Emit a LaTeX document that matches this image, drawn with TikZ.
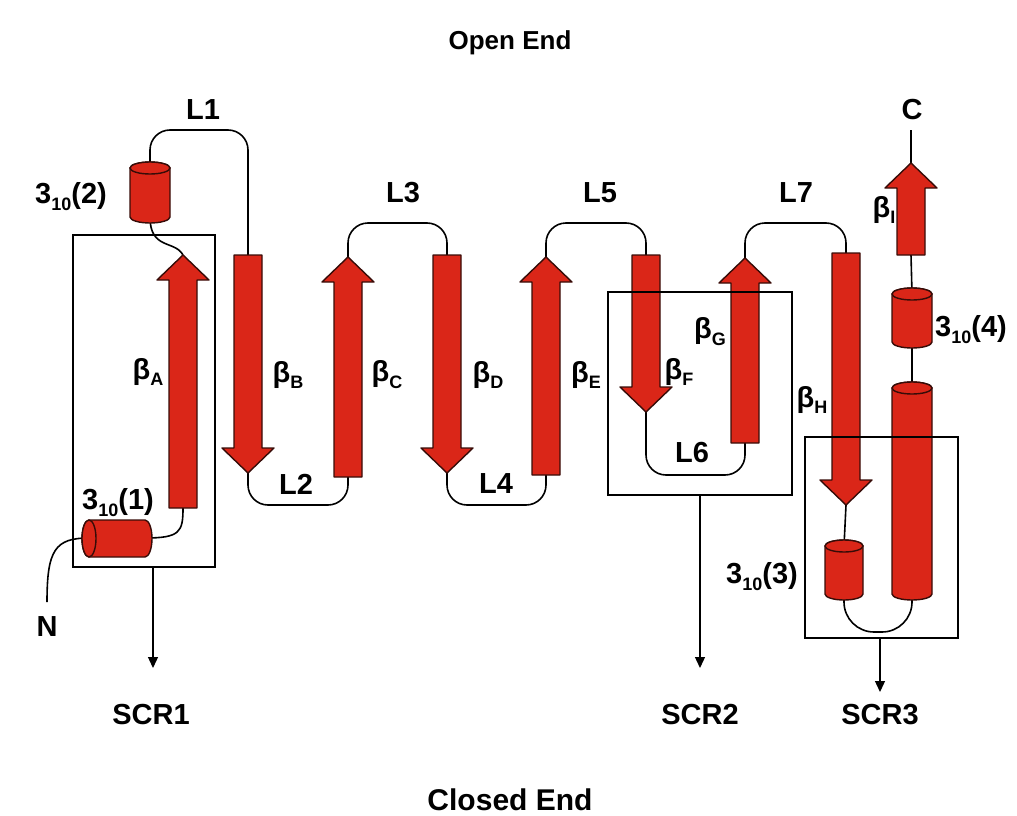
\documentclass[tikz,border=0pt]{standalone}
\usepackage{fontspec}
\setmainfont{Liberation Sans}
\usetikzlibrary{arrows.meta}
\definecolor{helix}{RGB}{218,38,24}
\definecolor{rim}{RGB}{55,12,8}

% subscripted label, e.g. beta_A or 3_10
\newcommand\lsub[2]{#1\raisebox{-0.45ex}{\fontsize{18}{18}\selectfont #2}}

% strand pointing up: name, x, bottom, tip
\newcommand\upstrand[4]{%
  \draw[strand] (#2-14,#3) -- (#2-14,#4+25) -- (#2-26,#4+25) -- (#2,#4)
    -- (#2+26,#4+25) -- (#2+14,#4+25) -- (#2+14,#3) -- cycle;}
% strand pointing down: name, x, top, tip
\newcommand\downstrand[4]{%
  \draw[strand] (#2-14,#3) -- (#2-14,#4-25) -- (#2-26,#4-25) -- (#2,#4)
    -- (#2+26,#4-25) -- (#2+14,#4-25) -- (#2+14,#3) -- cycle;}
% upright cylinder: x, top, bottom, radius
\newcommand\vcyl[4]{%
  \draw[strand] (#1-#4,#2+6) -- (#1-#4,#3-6)
    arc[start angle=180,end angle=0,x radius=#4,y radius=6]
    -- (#1+#4,#2+6)
    arc[start angle=0,end angle=-180,x radius=#4,y radius=6] -- cycle;
  \draw[strand] (#1,#2+6) ellipse[x radius=#4,y radius=6];}

\begin{document}
\begin{tikzpicture}[x=1pt,y=-1pt,
  strand/.style={fill=helix,draw=rim,line width=1.4pt,line join=round},
  link/.style={draw=black,line width=1.6pt},
  loopline/.style={link,rounded corners=20pt},
  scrbox/.style={draw=black,line width=1.3pt,inner sep=0pt,fill=none},
  downarrow/.style={draw=black,line width=1.3pt,-{Triangle[length=11pt,width=10pt]}},
  lab/.style={inner sep=0pt,font=\fontsize{29}{31}\selectfont\bfseries},
  title/.style={inner sep=0pt,font=\fontsize{26}{29}\selectfont\bfseries}]
\useasboundingbox (0,0) rectangle (1017,816);

% ---- end points of the chain ----
\coordinate (bA-b) at (183,508); \coordinate (bA-t) at (183,255);
\coordinate (bB-t) at (248,255); \coordinate (bB-e) at (248,473);
\coordinate (bC-b) at (348,477); \coordinate (bC-t) at (348,257);
\coordinate (bD-t) at (447,255); \coordinate (bD-e) at (447,473);
\coordinate (bE-b) at (546,475); \coordinate (bE-t) at (546,257);
\coordinate (bF-t) at (646,255); \coordinate (bF-e) at (646,412);
\coordinate (bG-b) at (745,443); \coordinate (bG-t) at (745,258);
\coordinate (bH-t) at (846,253); \coordinate (bH-e) at (846,505);
\coordinate (bI-b) at (911,255); \coordinate (bI-t) at (911,163);
\coordinate (h1-l) at (89,538);  \coordinate (h1-r) at (145,538);
\coordinate (h2-t) at (150,168); \coordinate (h2-b) at (150,217);
\coordinate (h3-t) at (844,546); \coordinate (h3-b) at (844,594);
\coordinate (h4-t) at (912,294); \coordinate (h4-b) at (912,342);
\coordinate (hl-t) at (912,388); \coordinate (hl-b) at (912,594);
\coordinate (nend) at (47,602);  \coordinate (cend) at (911,130);

% ---- loops and links ----
\draw[link] (nend) .. controls (47,550) and (55,538) .. (h1-l);
\draw[link] (h1-r) .. controls (180,538) and (183,532) .. (bA-b);
\draw[link] (h2-b) .. controls (150,250) and (175,240) .. (bA-t);
\draw[loopline] (h2-t) -- (150,130) -- (248,130) -- (bB-t);
\draw[loopline] (bB-e) -- (248,505) -- (348,505) -- (bC-b);
\draw[loopline] (bC-t) -- (348,223) -- (447,223) -- (bD-t);
\draw[loopline] (bD-e) -- (447,505) -- (546,505) -- (bE-b);
\draw[loopline] (bE-t) -- (546,223) -- (646,223) -- (bF-t);
\draw[loopline] (bF-e) -- (646,475) -- (745,475) -- (bG-b);
\draw[loopline] (bG-t) -- (745,223) -- (846,223) -- (bH-t);
\draw[link] (bH-e) -- (h3-t);
\draw[link,rounded corners=30pt] (h3-b) -- (844,632) -- (912,632) -- (hl-b);
\draw[link] (hl-t) -- (h4-b);
\draw[link] (h4-t) -- (bI-b);
\draw[link] (bI-t) -- (cend);

% ---- strands ----
\upstrand{bA}{183}{508}{255}
\downstrand{bB}{248}{255}{473}
\upstrand{bC}{348}{477}{257}
\downstrand{bD}{447}{255}{473}
\upstrand{bE}{546}{475}{257}
\downstrand{bF}{646}{255}{412}
\upstrand{bG}{745}{443}{258}
\downstrand{bH}{846}{253}{505}
\upstrand{bI}{911}{255}{163}

% ---- 3_10 helices and the long helix ----
\vcyl{150}{162}{223}{20}
\vcyl{844}{540}{600}{19}
\vcyl{912}{288}{348}{20}
\vcyl{912}{382}{600}{20}
% lying helix at the N terminus
\draw[strand] (89,520) -- (145,520)
  arc[start angle=-90,end angle=90,x radius=7,y radius=18.5]
  -- (89,557) arc[start angle=90,end angle=270,x radius=7,y radius=18.5] -- cycle;
\draw[strand] (89,538.5) ellipse[x radius=7,y radius=18.5];

% ---- short consensus repeat boxes ----
\node[scrbox,minimum width=142pt,minimum height=332pt] (box1) at (144,401) {};
\node[scrbox,minimum width=184pt,minimum height=203pt] (box2) at (700,393.5) {};
\node[scrbox,minimum width=153pt,minimum height=201pt] (box3) at (881.5,537.5) {};
\coordinate (a1) at (153,668);
\coordinate (a2) at (700,668);
\coordinate (a3) at (880,692);
\draw[downarrow] (a1 |- box1.south) -- (a1);
\draw[downarrow] (a2 |- box2.south) -- (a2);
\draw[downarrow] (a3 |- box3.south) -- (a3);

% ---- labels ----
\node[title] (open) at (510,43) {Open End};
\node[title,font=\fontsize{30}{33}\selectfont\bfseries] (closed) at (510,800) {Closed End};
\node[lab] (L1) at (203,110) {L1};
\node[lab] (L2) at (296,484) {L2};
\node[lab] (L3) at (403,193) {L3};
\node[lab] (L4) at (496,484) {L4};
\node[lab] (L5) at (600,193) {L5};
\node[lab] (L6) at (692,453) {L6};
\node[lab] (L7) at (796,193) {L7};
\node[lab] (Cl) at (912,110) {C};
\node[lab] (Nl) at (47,627) {N};
\node[lab] (lbA) at (148,372) {\lsub{β}{A}};
\node[lab] (lbB) at (288,375) {\lsub{β}{B}};
\node[lab] (lbC) at (387,375) {\lsub{β}{C}};
\node[lab] (lbD) at (488,375) {\lsub{β}{D}};
\node[lab] (lbE) at (586,375) {\lsub{β}{E}};
\node[lab] (lbF) at (679,372) {\lsub{β}{F}};
\node[lab] (lbG) at (710,332) {\lsub{β}{G}};
\node[lab] (lbH) at (812,400) {\lsub{β}{H}};
\node[lab] (lbI) at (884,210) {\lsub{β}{I}};
\node[lab] (lh1) at (118,503) {\lsub{3}{10}(1)};
\node[lab] (lh2) at (71,197) {\lsub{3}{10}(2)};
\node[lab] (lh3) at (762,577) {\lsub{3}{10}(3)};
\node[lab] (lh4) at (971,330) {\lsub{3}{10}(4)};
\node[lab] (s1) at (151,715) {SCR1};
\node[lab] (s2) at (700,715) {SCR2};
\node[lab] (s3) at (880,715) {SCR3};
\end{tikzpicture}
\end{document}
